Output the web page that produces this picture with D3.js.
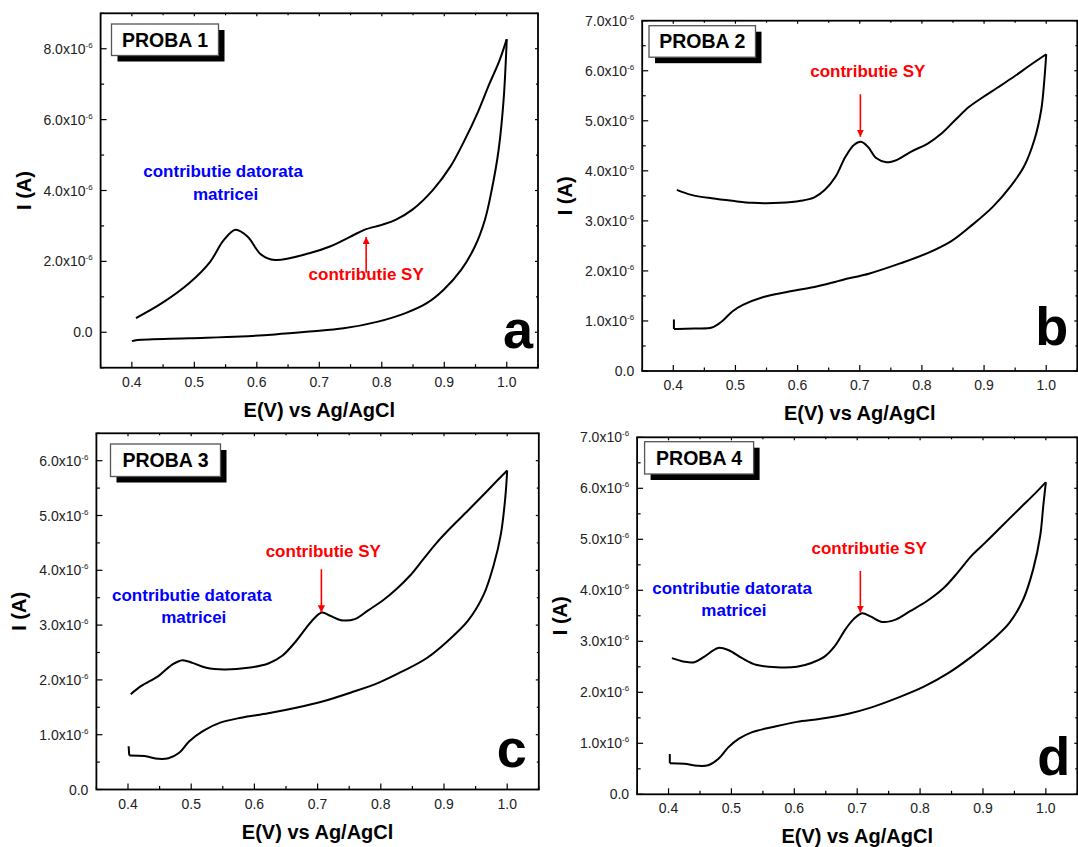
<!DOCTYPE html>
<html>
<head>
<meta charset="utf-8">
<script src="https://cdn.jsdelivr.net/npm/d3@7"></script>
<style>
  body { margin: 0; background: #fff; }
  svg { display: block; font-family: "Liberation Sans", Arial, sans-serif; }
</style>
</head>
<body>
<div id="wrapper"></div>
<script>
// data: potential E (V) vs current I (x10^-6 A)
const p1Upper = [[0.4066,0.40],[0.448,0.82],[0.492,1.39],[0.525,1.98],[0.547,2.60],[0.566,2.89],[0.585,2.70],[0.607,2.19],[0.629,2.04],[0.684,2.23],[0.717,2.42],[0.750,2.70],[0.772,2.89],[0.800,3.03],[0.822,3.17],[0.849,3.46],[0.882,4.02],[0.910,4.68],[0.932,5.40],[0.954,6.22],[0.972,7.00],[0.988,7.65],[1.0,8.27]]
const p1Lower = [[1.0,8.27],[0.995,6.57],[0.987,5.15],[0.976,4.02],[0.965,3.17],[0.949,2.42],[0.927,1.76],[0.899,1.20],[0.872,0.82],[0.838,0.54],[0.794,0.30],[0.739,0.11],[0.684,0.02],[0.629,-0.06],[0.574,-0.12],[0.492,-0.17],[0.409,-0.22],[0.400,-0.25]]
const p1Hook = []

const p2Upper = [[0.4056,3.62],[0.429,3.52],[0.462,3.45],[0.495,3.40],[0.528,3.36],[0.572,3.36],[0.605,3.40],[0.627,3.47],[0.644,3.62],[0.661,3.88],[0.677,4.28],[0.691,4.52],[0.702,4.58],[0.713,4.48],[0.727,4.25],[0.743,4.17],[0.760,4.22],[0.782,4.38],[0.810,4.55],[0.832,4.75],[0.854,5.02],[0.876,5.28],[0.898,5.47],[0.920,5.65],[0.948,5.88],[0.975,6.12],[1.0,6.33]]
const p2Lower = [[1.0,6.33],[0.997,5.82],[0.992,5.22],[0.981,4.62],[0.964,4.08],[0.942,3.68],[0.914,3.28],[0.881,2.92],[0.848,2.60],[0.810,2.36],[0.765,2.15],[0.716,1.95],[0.672,1.82],[0.627,1.68],[0.583,1.58],[0.545,1.48],[0.512,1.32],[0.495,1.19],[0.478,0.99],[0.462,0.87],[0.434,0.85],[0.4066,0.84],[0.401,0.84]]
const p2Hook = [[0.401,0.84],[0.401,1.03]]

const p3Upper = [[0.4044,1.74],[0.421,1.89],[0.448,2.07],[0.470,2.28],[0.486,2.36],[0.502,2.31],[0.524,2.22],[0.552,2.19],[0.590,2.22],[0.622,2.30],[0.644,2.44],[0.666,2.71],[0.682,2.95],[0.696,3.14],[0.707,3.23],[0.720,3.17],[0.737,3.09],[0.759,3.11],[0.780,3.27],[0.802,3.44],[0.824,3.65],[0.846,3.90],[0.867,4.20],[0.889,4.51],[0.911,4.78],[0.938,5.09],[0.966,5.42],[0.987,5.67],[1.0,5.82]]
const p3Lower = [[1.0,5.82],[0.997,5.33],[0.990,4.66],[0.979,4.11],[0.963,3.56],[0.938,3.08],[0.906,2.71],[0.873,2.40],[0.835,2.16],[0.797,1.95],[0.753,1.77],[0.709,1.61],[0.666,1.49],[0.622,1.39],[0.579,1.31],[0.546,1.22],[0.519,1.07],[0.497,0.88],[0.481,0.67],[0.464,0.57],[0.448,0.56],[0.426,0.61],[0.402,0.62]]
const p3Hook = [[0.402,0.62],[0.401,0.79]]

const p4Upper = [[0.4054,2.67],[0.425,2.60],[0.441,2.59],[0.457,2.70],[0.479,2.87],[0.495,2.83],[0.517,2.67],[0.539,2.54],[0.572,2.49],[0.604,2.50],[0.626,2.57],[0.648,2.70],[0.664,2.90],[0.681,3.23],[0.694,3.43],[0.708,3.55],[0.721,3.49],[0.740,3.38],[0.762,3.43],[0.784,3.59],[0.811,3.79],[0.838,4.05],[0.860,4.35],[0.882,4.68],[0.904,4.94],[0.931,5.27],[0.958,5.60],[0.983,5.90],[1.0,6.12]]
const p4Lower = [[1.0,6.12],[0.996,5.67],[0.991,5.07],[0.980,4.42],[0.964,3.82],[0.942,3.36],[0.915,3.03],[0.882,2.70],[0.844,2.37],[0.806,2.11],[0.768,1.91],[0.724,1.71],[0.686,1.58],[0.642,1.48],[0.604,1.42],[0.566,1.32],[0.533,1.22],[0.512,1.09],[0.495,0.92],[0.479,0.69],[0.463,0.57],[0.446,0.56],[0.425,0.60],[0.402,0.61]]
const p4Hook = [[0.402,0.61],[0.402,0.79]]

const titles = ["PROBA 1", "PROBA 2", "PROBA 3", "PROBA 4"]
const letters = ["a", "b", "c", "d"]
const xDomain = [0.35, 1.05]
const xTicks = [0.4, 0.5, 0.6, 0.7, 0.8, 0.9, 1.0]
const yDomains = [[-1, 9], [0, 7], [0, 6.5], [0, 7]]
const yTicks = [[0, 2, 4, 6, 8], [0, 1, 2, 3, 4, 5, 6, 7], [0, 1, 2, 3, 4, 5, 6], [0, 1, 2, 3, 4, 5, 6, 7]]
const yMinorStep = [1, 0.5, 0.5, 0.5]
// annotations in data coords: [E, I]
const matrixNotes = [[[0.546, 4.54], [0.550, 3.91]], null, [[0.501, 3.56], [0.504, 3.15]], [[0.501, 4.05], [0.504, 3.61]]]
const syNotes = [[0.775, 1.65], [0.713, 5.99], [0.709, 4.35], [0.719, 4.83]]
const syArrows = [[0.775, 1.68, 2.69], [0.701, 5.53, 4.68], [0.706, 4.02, 3.23], [0.705, 4.38, 3.56]]

const curves = [
  [p1Upper, p1Lower, p1Hook],
  [p2Upper, p2Lower, p2Hook],
  [p3Upper, p3Lower, p3Hook],
  [p4Upper, p4Lower, p4Hook],
]

// layout (pixels)
const layout = [
  { left: 100.6, right: 538, top: 13.3, bottom: 367.7, box: [111.5, 24, 107, 31.5], letterDx: -5, letterDy: -20 },
  { left: 642.2, right: 1077.3, top: 20.7, bottom: 371, box: [649, 25.7, 106.5, 31.5], letterDx: -9, letterDy: -26 },
  { left: 96.4, right: 538.8, top: 433.3, bottom: 789.5, box: [110.5, 444, 110, 32.5], letterDx: -12, letterDy: -23 },
  { left: 637.1, right: 1077.3, top: 437.3, bottom: 794.3, box: [644.6, 441.7, 109, 32.3], letterDx: -7, letterDy: -19 },
]

const svg = d3.select("#wrapper")
  .append("svg")
    .attr("width", 1078)
    .attr("height", 847)

const defs = svg.append("defs")
defs.append("marker")
    .attr("id", "arrowRed")
    .attr("viewBox", "0 0 10 10")
    .attr("refX", 10)
    .attr("refY", 5)
    .attr("markerWidth", 4.5)
    .attr("markerHeight", 4.5)
    .attr("markerUnits", "strokeWidth")
    .attr("orient", "auto")
  .append("path")
    .attr("d", "M0,0 L10,5 L0,10 z")
    .attr("fill", "#ff0000")

curves.forEach((c, i) => drawPanel(i))

function drawPanel(i) {
  const L = layout[i]
  const g = svg.append("g")

  const xScale = d3.scaleLinear().domain(xDomain).range([L.left, L.right])
  const yScale = d3.scaleLinear().domain(yDomains[i]).range([L.bottom, L.top])

  // frame
  g.append("rect")
      .attr("x", L.left)
      .attr("y", L.top)
      .attr("width", L.right - L.left)
      .attr("height", L.bottom - L.top)
      .attr("fill", "none")
      .attr("stroke", "#000")
      .attr("stroke-width", 1.8)

  // x ticks (inward), mirrored on top
  const xMinor = d3.range(0.35, 1.0501, 0.05).filter(v => !xTicks.some(t => Math.abs(t - v) < 1e-6))
  const tickG = g.append("g").attr("stroke", "#000").attr("stroke-width", 1.2)
  xTicks.forEach(t => {
    const x = xScale(t)
    tickG.append("line").attr("x1", x).attr("x2", x).attr("y1", L.bottom).attr("y2", L.bottom - 6)
    tickG.append("line").attr("x1", x).attr("x2", x).attr("y1", L.top).attr("y2", L.top + 3)
  })
  xMinor.forEach(t => {
    const x = xScale(t)
    tickG.append("line").attr("x1", x).attr("x2", x).attr("y1", L.bottom).attr("y2", L.bottom - 3.5)
    tickG.append("line").attr("x1", x).attr("x2", x).attr("y1", L.top).attr("y2", L.top + 2)
  })

  const yMinor = d3.range(yDomains[i][0], yDomains[i][1] + 1e-6, yMinorStep[i])
    .filter(v => !yTicks[i].some(t => Math.abs(t - v) < 1e-6))
  yTicks[i].forEach(t => {
    const y = yScale(t)
    tickG.append("line").attr("x1", L.left).attr("x2", L.left + 6).attr("y1", y).attr("y2", y)
    tickG.append("line").attr("x1", L.right).attr("x2", L.right - 3).attr("y1", y).attr("y2", y)
  })
  yMinor.forEach(t => {
    const y = yScale(t)
    tickG.append("line").attr("x1", L.left).attr("x2", L.left + 3.5).attr("y1", y).attr("y2", y)
    tickG.append("line").attr("x1", L.right).attr("x2", L.right - 2).attr("y1", y).attr("y2", y)
  })

  // tick labels
  g.selectAll(".xlab")
    .data(xTicks)
    .join("text")
      .attr("class", "xlab")
      .attr("x", d => xScale(d))
      .attr("y", L.bottom + 19)
      .attr("text-anchor", "middle")
      .style("font-size", "14px")
      .attr("fill", "#222")
      .text(d => d3.format(".1f")(d))

  const yl = g.selectAll(".ylab")
    .data(yTicks[i])
    .join("text")
      .attr("class", "ylab")
      .attr("x", L.left - 8)
      .attr("y", d => yScale(d) + 5)
      .attr("text-anchor", "end")
      .style("font-size", "14px")
      .attr("fill", "#222")
  yl.each(function(d) {
    const t = d3.select(this)
    if (d === 0) {
      t.text("0.0")
    } else {
      t.append("tspan").text(d3.format(".1f")(d) + "x10")
      t.append("tspan").style("font-size", "8px").attr("dy", -6).text("-6")
    }
  })

  // axis titles
  g.append("text")
      .attr("x", (L.left + L.right) / 2)
      .attr("y", L.bottom + 49)
      .attr("text-anchor", "middle")
      .attr("font-size", 20)
      .attr("font-weight", "bold")
      .text("E(V) vs Ag/AgCl")

  g.append("text")
      .attr("transform", `translate(${L.left - 70}, ${(L.top + L.bottom) / 2}) rotate(-90)`)
      .attr("text-anchor", "middle")
      .attr("font-size", 20)
      .attr("font-weight", "bold")
      .text("I (A)")

  // curves
  const line = d3.line()
    .x(d => xScale(d[0]))
    .y(d => yScale(d[1]))
    .curve(d3.curveCatmullRom.alpha(0.5))
  const straight = d3.line()
    .x(d => xScale(d[0]))
    .y(d => yScale(d[1]))

  const [up, low, hook] = curves[i]
  g.append("path").attr("d", line(up)).attr("fill", "none").attr("stroke", "#000").attr("stroke-width", 2).attr("stroke-linejoin", "round")
  g.append("path").attr("d", line(low)).attr("fill", "none").attr("stroke", "#000").attr("stroke-width", 2).attr("stroke-linejoin", "round")
  if (hook.length) {
    g.append("path").attr("d", straight(hook)).attr("fill", "none").attr("stroke", "#000").attr("stroke-width", 2)
  }

  // sample box with shadow
  const [bx, by, bw, bh] = L.box
  g.append("rect").attr("x", bx + 6).attr("y", by + 6).attr("width", bw).attr("height", bh).attr("fill", "#000")
  g.append("rect").attr("x", bx).attr("y", by).attr("width", bw).attr("height", bh)
      .attr("fill", "#fff").attr("stroke", "#555").attr("stroke-width", 1.3)
  g.append("text")
      .attr("x", bx + bw / 2)
      .attr("y", by + bh / 2 + 7)
      .attr("text-anchor", "middle")
      .attr("font-size", 19.5)
      .attr("font-weight", "bold")
      .text(titles[i])

  // panel letter
  g.append("text")
      .attr("x", L.right + L.letterDx)
      .attr("y", L.bottom + L.letterDy)
      .attr("text-anchor", "end")
      .attr("font-size", 54)
      .attr("font-weight", "bold")
      .text(letters[i])

  // annotations
  if (matrixNotes[i]) {
    const words = ["contributie datorata", "matricei"]
    matrixNotes[i].forEach((p, k) => {
      g.append("text")
          .attr("x", xScale(p[0]))
          .attr("y", yScale(p[1]))
          .attr("dy", "0.36em")
          .attr("text-anchor", "middle")
          .attr("font-size", 17)
          .attr("font-weight", "bold")
          .attr("fill", "#0000ff")
          .text(words[k])
    })
  }

  const a = syArrows[i]
  g.append("line")
      .attr("x1", xScale(a[0]))
      .attr("x2", xScale(a[0]))
      .attr("y1", yScale(a[1]))
      .attr("y2", yScale(a[2]))
      .attr("stroke", "#ff0000")
      .attr("stroke-width", 1.6)
      .attr("marker-end", "url(#arrowRed)")

  g.append("text")
      .attr("x", xScale(syNotes[i][0]))
      .attr("y", yScale(syNotes[i][1]))
      .attr("dy", "0.36em")
      .attr("text-anchor", "middle")
      .attr("font-size", 17)
      .attr("font-weight", "bold")
      .attr("fill", "#ff0000")
      .text("contributie SY")
}
</script>
</body>
</html>
